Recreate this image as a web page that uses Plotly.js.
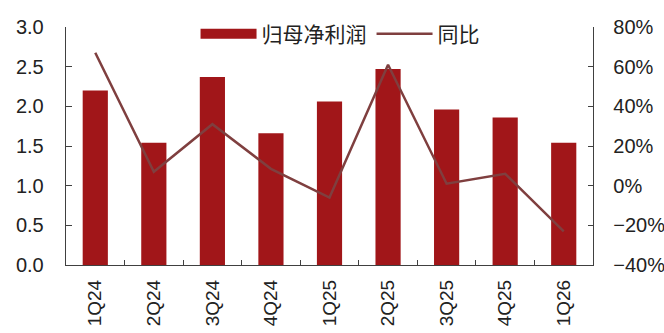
<!DOCTYPE html>
<html><head><meta charset="utf-8">
<script src="https://cdn.plot.ly/plotly-3.0.1.min.js"></script>
<style>html,body{margin:0;padding:0;background:#fff}</style>
</head><body><div id="chart" style="width:664px;height:333px"></div>
<script>
const categories = ['1Q24','2Q24','3Q24','4Q24','1Q25','2Q25','3Q25','4Q25','1Q26'];
const profit = [2.20, 1.54, 2.37, 1.66, 2.06, 2.47, 1.96, 1.86, 1.54];
const yoy = [67, 7, 31, 8.5, -6, 61, 1, 6, -23];
const profitName = '归母净利润';
const yoyName = '同比';

const barColor = '#A11619';
const lineColor = '#7F3F3F';
const fontFam = '"Liberation Sans", Arial, "Noto Sans CJK SC", sans-serif';

const traces = [
  {type:'bar', x:categories, y:profit, name:profitName, marker:{color:barColor}, width:0.43, showlegend:false, yaxis:'y'},
  {type:'scatter', mode:'lines', x:[null], y:[null], name:profitName, line:{color:barColor, width:12}, yaxis:'y', hoverinfo:'skip'},
  {type:'scatter', mode:'lines', x:categories, y:yoy, name:yoyName, line:{color:lineColor, width:2.5}, yaxis:'y2'}
];

const layout = {
  width:664, height:333,
  margin:{l:66, r:71, t:27, b:68, pad:0},
  paper_bgcolor:'#fff', plot_bgcolor:'#fff',
  font:{family:fontFam, size:19, color:'#222'},
  showlegend:true,
  legend:{orientation:'h', x:0.52, xanchor:'center', y:0.97, yanchor:'middle', font:{size:21, family:'"Noto Sans CJK SC", sans-serif', color:'#222'}, itemwidth:56, itemgap:30, bgcolor:'rgba(0,0,0,0)'},
  xaxis:{type:'category', showline:true, linecolor:'#404040', linewidth:1.3, ticks:'inside', ticklen:5, tickcolor:'#404040', tickson:'boundaries', tickangle:-90, ticklabelstandoff:6, tickfont:{size:19}, showgrid:false, zeroline:false},
  yaxis:{range:[0,3], dtick:0.5, tickformat:'.1f', showline:true, linecolor:'#404040', linewidth:1.3, ticks:'inside', ticklen:6, tickcolor:'#404040', ticklabelstandoff:17, tickfont:{size:20}, showgrid:false, zeroline:false},
  yaxis2:{range:[-40,80], dtick:20, ticksuffix:'%', overlaying:'y', side:'right', showline:true, linecolor:'#404040', linewidth:1.3, ticks:'inside', ticklen:5, tickcolor:'#404040', ticklabelstandoff:15, tickfont:{size:20}, showgrid:false, zeroline:false}
};
Plotly.newPlot('chart', traces, layout, {displayModeBar:false, staticPlot:true});
</script></body></html>
